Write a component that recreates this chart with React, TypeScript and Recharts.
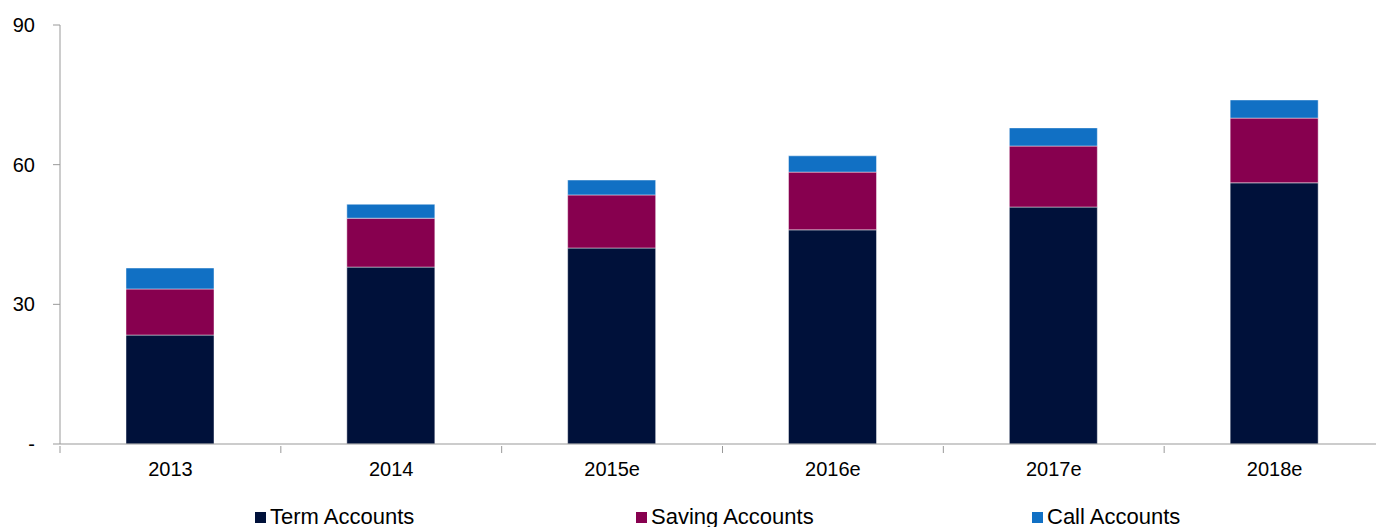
import { BarChart, Bar, XAxis, YAxis, Legend } from 'recharts';

const years = ['2013', '2014', '2015e', '2016e', '2017e', '2018e'];
const termAccounts = [23.4, 38.0, 42.1, 46.0, 50.9, 56.1];
const savingAccounts = [9.9, 10.5, 11.4, 12.4, 13.1, 13.9];
const callAccounts = [4.5, 3.0, 3.2, 3.5, 3.9, 3.9];
const yTicks = [0, 30, 60, 90];

const series = [
  { key: 'term', name: 'Term Accounts', color: '#00113A' },
  { key: 'saving', name: 'Saving Accounts', color: '#87004F' },
  { key: 'call', name: 'Call Accounts', color: '#1170C4' },
];

const data = years.map((year, i) => ({
  year,
  term: termAccounts[i],
  saving: savingAccounts[i],
  call: callAccounts[i],
}));

const FONT = '"Liberation Sans", Arial, sans-serif';
const legendSlots = [381, 396, 300];

// category label at the band centre, plus a small tick mark on the band's left edge
const YearTick = (props: any) => {
  const { x, y, payload } = props;
  const edge = x - (payload.offset || 0);
  return (
    <g>
      <line x1={edge} y1={y} x2={edge} y2={y + 7} stroke="#999" />
      <text x={x} y={y + 30} textAnchor="middle" fill="#000" fontSize={20} fontFamily={FONT}>
        {payload.value}
      </text>
    </g>
  );
};

const LegendRow = () => (
  <div style={{ display: 'flex', paddingTop: 10, marginLeft: 255, fontFamily: FONT, fontSize: 22, lineHeight: '20px', color: '#000' }}>
    {series.map((s, i) => (
      <div key={s.key} style={{ display: 'flex', alignItems: 'center', whiteSpace: 'nowrap', width: legendSlots[i] }}>
        <span style={{ display: 'inline-block', width: 11, height: 11, background: s.color, marginRight: 4 }} />
        {s.name}
      </div>
    ))}
  </div>
);

export default function App() {
  return (
    <div style={{ position: 'absolute', left: 0, top: 0, width: 1376, height: 527, overflow: 'hidden', background: '#fff' }}>
      <BarChart width={1385} height={527} data={data} margin={{ top: 25, right: 0, left: 0, bottom: 0 }}>
        <XAxis
          dataKey="year"
          height={53}
          axisLine={{ stroke: '#999' }}
          tickLine={false}
          tickSize={0}
          tick={<YearTick />}
          interval={0}
        />
        <YAxis
          width={60}
          domain={[0, 90]}
          ticks={yTicks}
          interval={0}
          tickFormatter={(v: number) => (v === 0 ? '-' : String(v))}
          axisLine={{ stroke: '#999' }}
          tickLine={{ stroke: '#999' }}
          tickSize={7}
          tickMargin={18}
          tick={{ fill: '#000', fontSize: 20, fontFamily: FONT }}
        />
        <Legend verticalAlign="bottom" height={30} content={() => <LegendRow />} wrapperStyle={{ left: 0, width: 1385 }} />
        {series.map(s => (
          <Bar
            key={s.key}
            dataKey={s.key}
            name={s.name}
            stackId="a"
            fill={s.color}
            stroke="rgba(255,255,255,0.45)"
            strokeWidth={1}
            barSize={88}
            isAnimationActive={false}
          />
        ))}
      </BarChart>
    </div>
  );
}
